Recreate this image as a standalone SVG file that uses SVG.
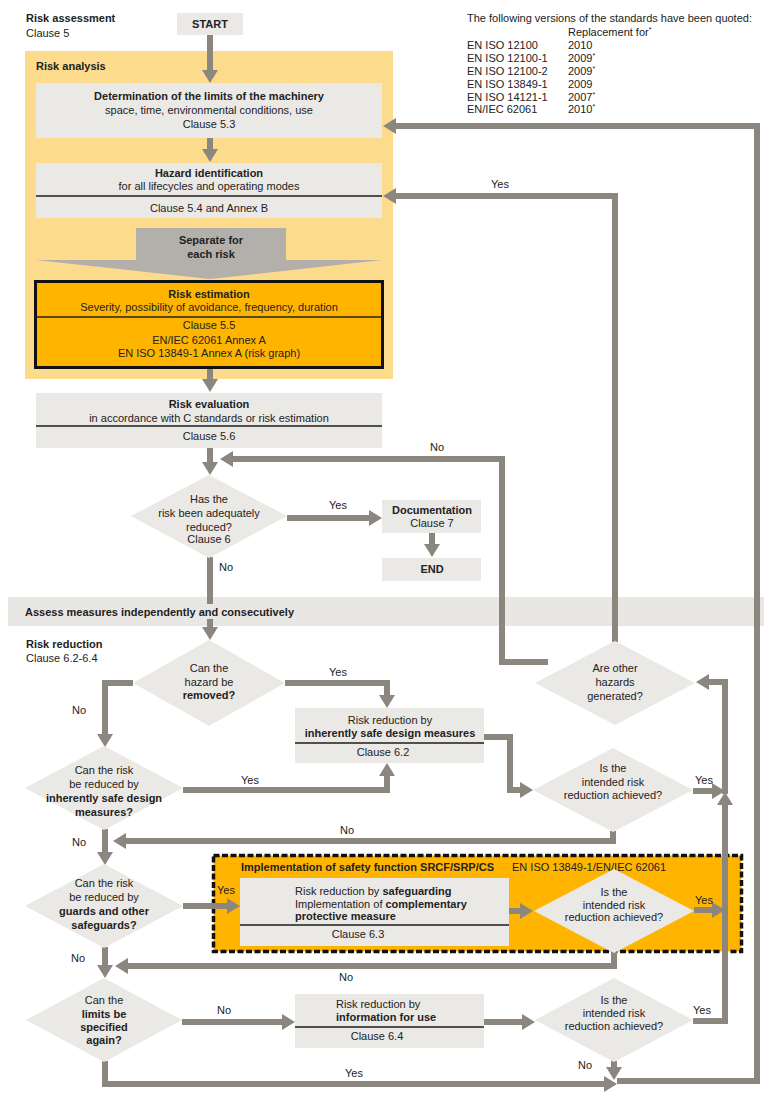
<svg xmlns="http://www.w3.org/2000/svg" width="764" height="1095" viewBox="0 0 764 1095">
<defs>
<style>
.t{font-family:"Liberation Sans",Arial,Helvetica,sans-serif;font-size:11px;fill:#222}
.b{font-weight:bold}
.m{text-anchor:middle}
.bx{fill:#EBE9E6}
.sep{stroke:#1c1c1c;stroke-width:1.6}
.c{fill:none;stroke:#8B877F;stroke-width:6;stroke-linejoin:miter}
.a{marker-end:url(#ah)}
</style>
<marker id="ah" markerUnits="userSpaceOnUse" viewBox="0 0 13 16" markerWidth="13" markerHeight="16" refX="1" refY="8" orient="auto"><path d="M0,0L13,8L0,16z" fill="#8B877F"/></marker>
</defs>
<rect width="764" height="1095" fill="#fff"/>

<g id="risk-analysis">
<rect x="25" y="51" width="368" height="328" fill="#FDDB8C"/>
<text class="t b" x="36" y="70">Risk analysis</text>
</g>
<g id="band">
<rect x="8" y="597" width="756" height="29" fill="#E9E7E4"/>
<text class="t b" x="25" y="616">Assess measures independently and consecutively</text>
</g>
<g id="safety-function">
<rect x="213.5" y="855.5" width="528" height="96" fill="#FFB500" stroke="#111" stroke-width="3.5" stroke-dasharray="6 2.5"/>
<text class="t" x="241" y="871"><tspan class="b">Implementation of safety function SRCF/SRP/CS</tspan>   <tspan x="512">EN ISO 13849-1/EN/IEC 62061</tspan></text>
</g>

<g id="titles">
<text class="t b" x="26" y="22">Risk assessment</text>
<text class="t" x="26" y="36.5">Clause 5</text>
<text class="t b" x="26" y="648">Risk reduction</text>
<text class="t" x="26" y="662">Clause 6.2-6.4</text>
</g>

<g id="standards">
<text class="t" x="467" y="22">The following versions of the standards have been quoted:</text>
<text class="t" x="568" y="36">Replacement for<tspan dy="-4" font-size="7">*</tspan></text>
<text class="t" x="467" y="49">EN ISO 12100</text><text class="t" x="568" y="49">2010</text>
<text class="t" x="467" y="62">EN ISO 12100-1</text><text class="t" x="568" y="62">2009<tspan dy="-4" font-size="7">*</tspan></text>
<text class="t" x="467" y="74.5">EN ISO 12100-2</text><text class="t" x="568" y="74.5">2009<tspan dy="-4" font-size="7">*</tspan></text>
<text class="t" x="467" y="87.5">EN ISO 13849-1</text><text class="t" x="568" y="87.5">2009</text>
<text class="t" x="467" y="100.5">EN ISO 14121-1</text><text class="t" x="568" y="100.5">2007<tspan dy="-4" font-size="7">*</tspan></text>
<text class="t" x="467" y="113">EN/IEC 62061</text><text class="t" x="568" y="113">2010<tspan dy="-4" font-size="7">*</tspan></text>
</g>

<g id="connectors">
<path class="c a" d="M210,35V71"/>
<path class="c a" d="M210,138V150"/>
<path class="c a" d="M210,369V380"/>
<path class="c a" d="M210,448V463"/>
<path class="c a" d="M287,518H370"/>
<text class="t m" x="338" y="509">Yes</text>
<path class="c a" d="M432,533V545"/>
<path class="c" d="M210,557V604"/>
<text class="t" x="219" y="571">No</text>
<path class="c a" d="M210,619V628"/>
<path class="c a" d="M548,662H502V459H232"/>
<text class="t m" x="437" y="451">No</text>
<path class="c a" d="M615,642V196H395"/>
<text class="t m" x="500" y="188">Yes</text>
<path class="c a" d="M617,1081H757V126H395"/>
<path class="c a" d="M285,683H387V696"/>
<text class="t m" x="338" y="676">Yes</text>
<path class="c a" d="M133,683H105V735"/>
<text class="t m" x="79" y="714">No</text>
<path class="c a" d="M183,790H387V775"/>
<text class="t m" x="250" y="784">Yes</text>
<path class="c a" d="M484,737H510V790H521"/>
<path class="c a" d="M693,791H713"/>
<text class="t m" x="704" y="784">Yes</text>
<path class="c a" d="M693,1021H725V804"/>
<text class="t m" x="702" y="1014">Yes</text>
<path class="c a" d="M725,794V682H708"/>
<path class="c a" d="M613,831V841H125"/>
<text class="t m" x="347" y="834">No</text>
<path class="c a" d="M105,829V853"/>
<text class="t m" x="79" y="846">No</text>
<path class="c a" d="M183,906H228"/>
<text class="t m" x="226" y="894">Yes</text>
<path class="c a" d="M509,911H521"/>
<path class="c a" d="M694,910H713"/>
<text class="t m" x="704" y="904">Yes</text>
<path class="c a" d="M614,952V966H127"/>
<text class="t m" x="346" y="981">No</text>
<path class="c a" d="M105,947V966"/>
<text class="t m" x="78" y="962">No</text>
<path class="c a" d="M182,1022H283"/>
<text class="t m" x="224" y="1014">No</text>
<path class="c a" d="M484,1022H523"/>
<path class="c a" d="M614,1061V1068"/>
<text class="t m" x="585" y="1069">No</text>
<path class="c a" d="M105,1061V1084H605"/>
<text class="t m" x="354" y="1077">Yes</text>
</g>

<g id="start">
<rect class="bx" x="177" y="13" width="66" height="22"/>
<text class="t b m" x="210" y="28">START</text>
</g>
<g id="limits">
<rect class="bx" x="36" y="83" width="346" height="55"/>
<text class="t b m" x="209" y="100">Determination of the limits of the machinery</text>
<text class="t m" x="209" y="114">space, time, environmental conditions, use</text>
<text class="t m" x="209" y="128">Clause 5.3</text>
</g>
<g id="hazard-identification">
<rect class="bx" x="36" y="163" width="346" height="55"/>
<line class="sep" x1="36" y1="196" x2="382" y2="196"/>
<text class="t b m" x="209" y="177">Hazard identification</text>
<text class="t m" x="209" y="190">for all lifecycles and operating modes</text>
<text class="t m" x="209" y="212">Clause 5.4 and Annex B</text>
</g>
<g id="separate">
<polygon points="136,228 286,228 286,260 382,260 210,279 36,260 136,260" fill="#B3B0AB"/>
<text class="t b m" x="211" y="244">Separate for</text>
<text class="t b m" x="211" y="258">each risk</text>
</g>
<g id="risk-estimation">
<rect x="35.5" y="281.5" width="347" height="86" fill="#FFB500" stroke="#111" stroke-width="3"/>
<line x1="36" y1="317" x2="382" y2="317" stroke="#222" stroke-width="1.5"/>
<text class="t b m" x="209" y="298">Risk estimation</text>
<text class="t m" x="209" y="311">Severity, possibility of avoidance, frequency, duration</text>
<text class="t m" x="209" y="329">Clause 5.5</text>
<text class="t m" x="209" y="344">EN/IEC 62061 Annex A</text>
<text class="t m" x="209" y="357">EN ISO 13849-1 Annex A (risk graph)</text>
</g>
<g id="risk-evaluation">
<rect class="bx" x="36" y="393" width="346" height="55"/>
<line class="sep" x1="36" y1="426" x2="382" y2="426"/>
<text class="t b m" x="209" y="408">Risk evaluation</text>
<text class="t m" x="209" y="422">in accordance with C standards or risk estimation</text>
<text class="t m" x="209" y="440">Clause 5.6</text>
</g>
<g id="d-adequately-reduced">
<polygon class="bx" points="131,516 209,475 287,516 209,558"/>
<text class="t m" x="209" y="503">Has the</text>
<text class="t m" x="209" y="517">risk been adequately</text>
<text class="t m" x="209" y="531">reduced?</text>
<text class="t m" x="209" y="543">Clause 6</text>
</g>
<g id="documentation">
<rect class="bx" x="382" y="500" width="99" height="33"/>
<text class="t b m" x="432" y="514">Documentation</text>
<text class="t m" x="432" y="527">Clause 7</text>
</g>
<g id="end">
<rect class="bx" x="382" y="558" width="99" height="23"/>
<text class="t b m" x="432" y="573">END</text>
</g>
<g id="d-hazard-removed">
<polygon class="bx" points="133,683 209,640 285,683 209,726"/>
<text class="t m" x="209" y="672">Can the</text>
<text class="t m" x="209" y="686">hazard be</text>
<text class="t b m" x="209" y="699">removed?</text>
</g>
<g id="inherently-safe-design">
<rect class="bx" x="295" y="708" width="189" height="55"/>
<line class="sep" x1="295" y1="743" x2="484" y2="743"/>
<text class="t m" x="390" y="724">Risk reduction by</text>
<text class="t b m" x="390" y="737">inherently safe design measures</text>
<text class="t m" x="383" y="756">Clause 6.2</text>
</g>
<g id="d-inherently-safe">
<polygon class="bx" points="25,788 104,746 183,788 104,830"/>
<text class="t m" x="104" y="774">Can the risk</text>
<text class="t m" x="104" y="788">be reduced by</text>
<text class="t b m" x="104" y="802">inherently safe design</text>
<text class="t b m" x="104" y="816">measures?</text>
</g>
<g id="d-achieved-1">
<polygon class="bx" points="533,790 613,748 693,790 613,832"/>
<text class="t m" x="613" y="772">Is the</text>
<text class="t m" x="613" y="786">intended risk</text>
<text class="t m" x="613" y="799">reduction achieved?</text>
</g>
<g id="d-other-hazards">
<polygon class="bx" points="535,683 615,641 695,683 615,725"/>
<text class="t m" x="615" y="672">Are other</text>
<text class="t m" x="615" y="686">hazards</text>
<text class="t m" x="615" y="700">generated?</text>
</g>
<g id="safeguarding">
<rect class="bx" x="240" y="878" width="269" height="68"/>
<line class="sep" x1="240" y1="925" x2="509" y2="925"/>
<text class="t" x="295" y="895">Risk reduction by <tspan class="b">safeguarding</tspan></text>
<text class="t" x="295" y="908">Implementation of <tspan class="b">complementary</tspan></text>
<text class="t b" x="295" y="920">protective measure</text>
<text class="t m" x="358" y="938">Clause 6.3</text>
</g>
<g id="d-guards">
<polygon class="bx" points="25,906 104,864 183,906 104,948"/>
<text class="t m" x="104" y="887">Can the risk</text>
<text class="t m" x="104" y="901">be reduced by</text>
<text class="t b m" x="104" y="915">guards and other</text>
<text class="t b m" x="104" y="929">safeguards?</text>
</g>
<g id="d-achieved-2">
<polygon class="bx" points="534,911 614,869 694,911 614,953"/>
<text class="t m" x="614" y="896">Is the</text>
<text class="t m" x="614" y="909">intended risk</text>
<text class="t m" x="614" y="921">reduction achieved?</text>
</g>
<g id="d-limits-again">
<polygon class="bx" points="26,1020 104,978 182,1020 104,1062"/>
<text class="t m" x="104" y="1004">Can the</text>
<text class="t b m" x="104" y="1018">limits be</text>
<text class="t b m" x="104" y="1031">specified</text>
<text class="t b m" x="104" y="1044">again?</text>
</g>
<g id="information-for-use">
<rect class="bx" x="295" y="994" width="189" height="54"/>
<line class="sep" x1="295" y1="1027" x2="484" y2="1027"/>
<text class="t" x="336" y="1008">Risk reduction by</text>
<text class="t b" x="336" y="1021">information for use</text>
<text class="t m" x="377" y="1040">Clause 6.4</text>
</g>
<g id="d-achieved-3">
<polygon class="bx" points="535,1020 614,978 693,1020 614,1062"/>
<text class="t m" x="614" y="1004">Is the</text>
<text class="t m" x="614" y="1017">intended risk</text>
<text class="t m" x="614" y="1030">reduction achieved?</text>
</g>
</svg>
